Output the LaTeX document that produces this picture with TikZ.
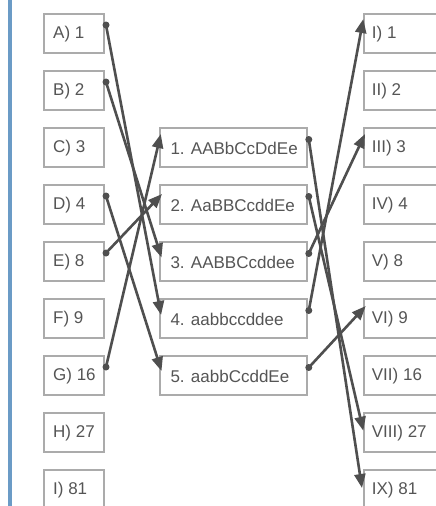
\documentclass[tikz,border=0pt]{standalone}
\usepackage{fontspec}
\setmainfont{Liberation Sans}
\usetikzlibrary{arrows.meta}
\definecolor{boxline}{HTML}{ABABAB}
\definecolor{txt}{HTML}{555555}
\definecolor{conn}{HTML}{4F4F4F}
\definecolor{barblue}{HTML}{6B9BC6}
\begin{document}
\begin{tikzpicture}[x=1pt,y=-1pt,
  cell/.style={draw=boxline, line width=2pt, fill=white, anchor=north west,
    minimum height=39pt, inner sep=0pt, outer sep=0pt},
  lcell/.style={cell, minimum width=60pt},
  mcell/.style={cell, minimum width=147pt},
  rcell/.style={cell, minimum width=100pt},
  txtnode/.style={anchor=west, inner sep=0pt, text=txt, font=\fontsize{17}{20}\selectfont},
  link/.style={draw=conn, line width=2.6pt, -{Triangle[length=14pt,width=11pt]}},
  dotc/.style={fill=conn, draw=none, circle, inner sep=0pt, minimum size=7pt}
]
\useasboundingbox (0,0) rectangle (436,506);
\clip (0,0) rectangle (436,506);
\fill[white] (0,0) rectangle (436,506);
\fill[barblue] (7.5,0) rectangle (12,506);

% left column
\foreach \n/\t [count=\i from 0] in {l1/A) 1, l2/B) 2, l3/C) 3, l4/D) 4, l5/E) 8, l6/F) 9, l7/G) 16, l8/H) 27, l9/I) 81}{
  \node[lcell] (\n) at (44, 14+57*\i) {};
  \node[txtnode] (\n t) at ([xshift=9pt,yshift=-0.8pt]\n.west) {\t};
}

% right column
\foreach \n/\t [count=\i from 0] in {r1/I) 1, r2/II) 2, r3/III) 3, r4/IV) 4, r5/V) 8, r6/VI) 9, r7/VII) 16, r8/VIII) 27, r9/IX) 81}{
  \node[rcell] (\n) at (363.7, 14+57*\i) {};
  \node[txtnode] (\n t) at ([xshift=8pt,yshift=-0.8pt]\n.west) {\t};
}

% middle column
\foreach \n/\t [count=\i from 0] in {m1/1. AABbCcDdEe, m2/2. AaBBCcddEe, m3/3. AABBCcddee, m4/4. aabbccddee, m5/5. aabbCcddEe}{
  \node[mcell] (\n) at (160.3, 128+57*\i) {};
  \node[txtnode] (\n t) at ([xshift=10pt,yshift=-0.8pt]\n.west) {\t};
}

% left -> middle
\draw[link] ([xshift=2pt,yshift=8.5pt]l7.east) -- ([xshift=0.5pt,yshift=13.5pt]m1.west);
\draw[link] ([xshift=2pt,yshift=8.5pt]l5.east) -- ([xshift=1.7pt,yshift=10.5pt]m2.west);
\draw[link] ([xshift=2pt,yshift=8.5pt]l2.east) -- ([xshift=1.2pt,yshift=4pt]m3.west);
\draw[link] ([xshift=2pt,yshift=8.5pt]l1.east) -- ([xshift=0.8pt,yshift=3.5pt]m4.west);
\draw[link] ([xshift=2pt,yshift=8.5pt]l4.east) -- ([xshift=1.2pt,yshift=4.5pt]m5.west);

% middle -> right
\draw[link] ([xshift=1.5pt,yshift=8pt]m1.east) -- ([xshift=-1.7pt,yshift=1.5pt]r9.west);
\draw[link] ([xshift=1.5pt,yshift=8pt]m2.east) -- ([xshift=-0.4pt,yshift=1.8pt]r8.west);
\draw[link] ([xshift=1.5pt,yshift=8pt]m3.east) -- ([xshift=1.3pt,yshift=13.5pt]r3.west);
\draw[link] ([xshift=1.5pt,yshift=8pt]m4.east) -- ([xshift=-0.4pt,yshift=14.5pt]r1.west);
\draw[link] ([xshift=1.5pt,yshift=8pt]m5.east) -- ([xshift=2pt,yshift=12.5pt]r6.west);

% start dots
\foreach \s in {l1,l2,l4,l5,l7}
  \node[dotc] at ([xshift=2pt,yshift=8.5pt]\s.east) {};
\foreach \s in {m1,m2,m3,m4,m5}
  \node[dotc] at ([xshift=1.5pt,yshift=8pt]\s.east) {};
\end{tikzpicture}
\end{document}
